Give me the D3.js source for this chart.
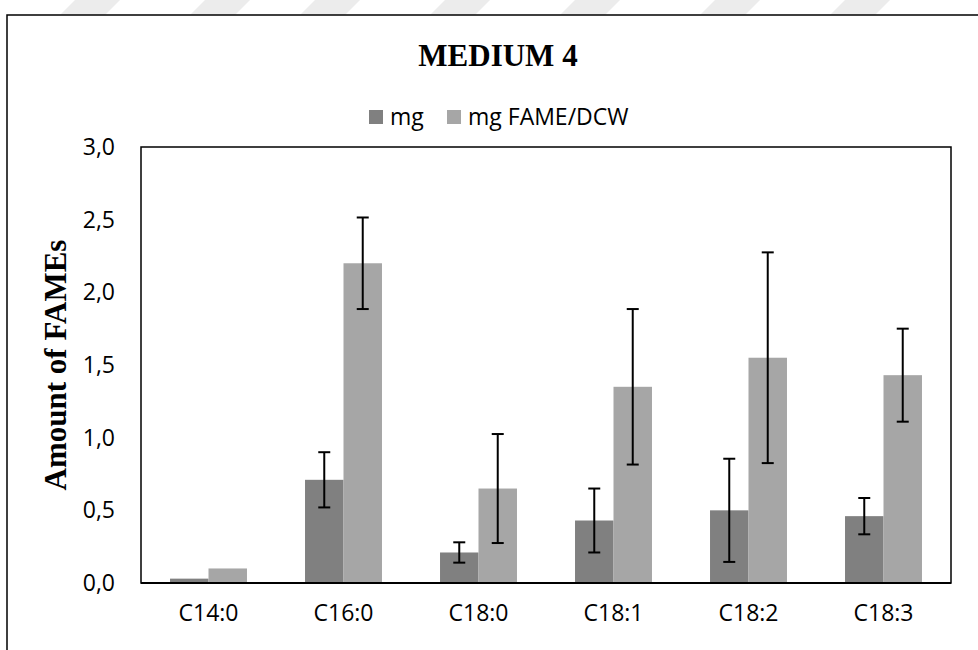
<!DOCTYPE html>
<html>
<head>
<meta charset="utf-8">
<script src="https://cdn.jsdelivr.net/npm/d3@7"></script>
<style>
    html, body { margin: 0; padding: 0; background: #ffffff; }
    svg { display: block; }
</style>
</head>
<body>
<div id="chart"></div>
<script>
const width = 978;
const height = 650;

// data
const categories = ["C14:0", "C16:0", "C18:0", "C18:1", "C18:2", "C18:3"];
const seriesNames = ["mg", "mg FAME/DCW"];
const mgValues = [0.03, 0.71, 0.21, 0.43, 0.50, 0.46];
const mgErrors = [0, 0.19, 0.07, 0.22, 0.355, 0.125];
const dcwValues = [0.10, 2.20, 0.65, 1.35, 1.55, 1.43];
const dcwErrors = [0, 0.315, 0.375, 0.535, 0.725, 0.32];
const yTickValues = [0, 0.5, 1.0, 1.5, 2.0, 2.5, 3.0];
const seriesColors = ["#808080", "#a6a6a6"];

const margin = { top: 147, right: 27, bottom: 67, left: 141 };
const plotW = width - margin.left - margin.right;
const plotH = height - margin.top - margin.bottom;

const svg = d3
    .select("#chart")
    .append("svg")
    .attr("width", width)
    .attr("height", height)
    .attr("viewBox", `0 0 ${width} ${height}`);

// faint watermark stripes at the top edge
const stripes = svg.append("g").attr("fill", "#ececec");
[60, 190, 300, 430, 560, 700, 830].forEach(function (x0) {
    stripes.append("path")
        .attr("d", `M${x0},15 L${x0 + 45},15 L${x0 + 60},0 L${x0 + 15},0 Z`);
});

// outer frame
svg.append("rect")
    .attr("x", 7)
    .attr("y", 15)
    .attr("width", 1000)
    .attr("height", 700)
    .attr("fill", "none")
    .attr("stroke", "#000")
    .attr("stroke-width", 1.5);

// title
svg.append("text")
    .attr("x", 498)
    .attr("y", 66)
    .attr("text-anchor", "middle")
    .attr("font-family", "Liberation Serif, Times New Roman, serif")
    .attr("font-weight", "bold")
    .attr("font-size", 31)
    .text("MEDIUM 4");

// legend
const legendItems = [
    { name: seriesNames[0], color: seriesColors[0], x: 369 },
    { name: seriesNames[1], color: seriesColors[1], x: 447 }
];
const legend = svg.append("g");
legendItems.forEach(function (item) {
    legend.append("rect")
        .attr("x", item.x)
        .attr("y", 110)
        .attr("width", 14)
        .attr("height", 14)
        .attr("fill", item.color);
    legend.append("text")
        .attr("x", item.x + 21)
        .attr("y", 125)
        .attr("font-family", "Open Sans, sans-serif")
        .attr("font-size", 23)
        .attr("fill", "#000")
        .text(item.name);
});

const g = svg.append("g")
    .attr("transform", `translate(${margin.left},${margin.top})`);

const x0 = d3.scaleBand()
    .domain(categories)
    .range([0, plotW])
    .paddingInner(0.43)
    .paddingOuter(0.215);

const x1 = d3.scaleBand()
    .domain([0, 1])
    .range([0, x0.bandwidth()]);

const y = d3.scaleLinear()
    .domain([0, 3])
    .range([plotH, 0]);

// y axis labels
const yAxis = g.append("g")
    .call(
        d3.axisLeft(y)
            .tickValues(yTickValues)
            .tickSize(0)
            .tickPadding(26)
            .tickFormat(function (d) {
                return d3.format(".1f")(d).replace(".", ",");
            })
    );
yAxis.select(".domain").remove();
yAxis.selectAll("text")
    .attr("font-family", "Open Sans, sans-serif")
    .attr("font-size", 23)
    .attr("fill", "#000");

// x axis labels
const xAxis = g.append("g")
    .attr("transform", `translate(0,${plotH})`)
    .call(d3.axisBottom(x0).tickSize(0).tickPadding(22));
xAxis.select(".domain").remove();
xAxis.selectAll("text")
    .attr("font-family", "Open Sans, sans-serif")
    .attr("font-size", 23)
    .attr("fill", "#000");

// bars
const series = [
    { values: mgValues, errors: mgErrors },
    { values: dcwValues, errors: dcwErrors }
];

series.forEach(function (s, si) {
    g.append("g")
        .selectAll("rect")
        .data(categories)
        .enter()
        .append("rect")
        .attr("x", function (d) { return x0(d) + x1(si); })
        .attr("y", function (d, i) { return y(s.values[i]); })
        .attr("width", x1.bandwidth())
        .attr("height", function (d, i) { return plotH - y(s.values[i]); })
        .attr("fill", seriesColors[si]);
});

// error bars
series.forEach(function (s, si) {
    const eg = g.append("g")
        .attr("stroke", "#000")
        .attr("stroke-width", 2);
    categories.forEach(function (cat, i) {
        if (!s.errors[i]) {
            return;
        }
        const cx = x0(cat) + x1(si) + x1.bandwidth() / 2;
        const yTop = y(s.values[i] + s.errors[i]);
        const yBot = y(s.values[i] - s.errors[i]);
        eg.append("line")
            .attr("x1", cx).attr("x2", cx)
            .attr("y1", yTop).attr("y2", yBot);
        [yTop, yBot].forEach(function (yy) {
            eg.append("line")
                .attr("x1", cx - 6).attr("x2", cx + 6)
                .attr("y1", yy).attr("y2", yy);
        });
    });
});

// plot box
g.append("rect")
    .attr("x", 0)
    .attr("y", 0)
    .attr("width", plotW)
    .attr("height", plotH)
    .attr("fill", "none")
    .attr("stroke", "#000")
    .attr("stroke-width", 1.5);
g.append("line")
    .attr("x1", 0).attr("x2", plotW)
    .attr("y1", plotH).attr("y2", plotH)
    .attr("stroke", "#000")
    .attr("stroke-width", 2);

// y axis title
svg.append("text")
    .attr("transform", `translate(66,${margin.top + plotH / 2}) rotate(-90)`)
    .attr("text-anchor", "middle")
    .attr("font-family", "Liberation Serif, Times New Roman, serif")
    .attr("font-weight", "bold")
    .attr("font-size", 31)
    .text("Amount of FAMEs");
</script>
</body>
</html>
